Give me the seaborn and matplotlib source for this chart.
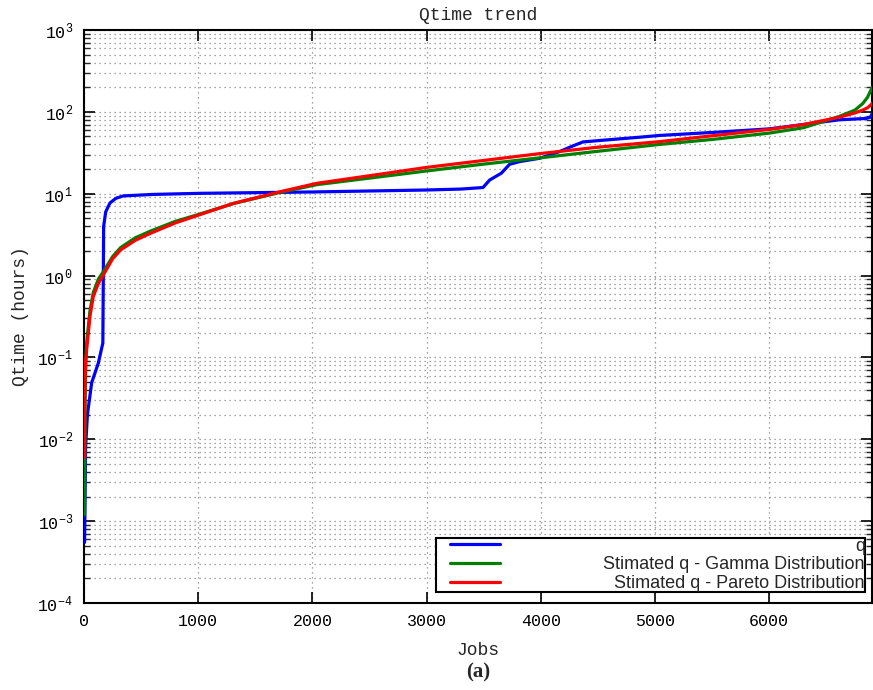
import numpy as np
import pandas as pd
import matplotlib
matplotlib.use("Agg")
import matplotlib.pyplot as plt
from matplotlib.ticker import LogLocator, NullFormatter, FixedLocator
import seaborn as sns

# Measured queue time per job (sorted), in hours
jobs_q = [5, 8, 14, 30, 67, 125, 165, 172, 190, 227, 280, 344, 600, 1000, 1500,
          2000, 2500, 3000, 3300, 3494, 3552, 3654, 3727, 3815, 3990, 4164, 4280,
          4369, 4500, 4864, 5040, 5500, 6000, 6118, 6614, 6848, 6885, 6903]
q = [5.5e-4, 1.2e-3, 8e-3, 0.02, 0.049, 0.085, 0.15, 4.0, 6.0, 7.7, 8.8, 9.4,
     9.8, 10.1, 10.3, 10.5, 10.8, 11.1, 11.4, 11.9, 14.7, 17.8, 22.9, 24.7, 27.1,
     32.7, 38.3, 42.9, 44.5, 49.0, 51.5, 56.0, 62.0, 65.0, 80.0, 83.0, 86.0, 96.0]

# Estimated queue time from the fitted distributions
jobs_fit = [5, 7, 10, 14, 23, 52, 81, 125, 175, 250, 321, 450, 583, 800, 1006,
            1312, 1721, 2039, 2500, 3004, 3500, 4000, 4500, 5040, 5500, 6000,
            6300, 6614, 6750, 6818, 6860, 6891, 6903]
q_gamma = [1.2e-3, 6e-3, 0.03, 0.07, 0.15, 0.37, 0.62, 0.9, 1.15, 1.7, 2.2, 2.9,
           3.5, 4.6, 5.6, 7.6, 10.4, 12.9, 15.5, 19.0, 23.0, 27.5, 33.0, 40.0,
           46.0, 55.0, 64.0, 88.0, 105.0, 126.0, 150.0, 185.0, 200.0]
q_pareto = [6e-3, 0.03, 0.06, 0.09, 0.124, 0.316, 0.555, 0.8, 1.05, 1.6, 2.06,
            2.7, 3.29, 4.4, 5.5, 7.65, 10.6, 13.4, 16.6, 21.0, 25.5, 31.0, 37.0,
            43.3, 51.0, 61.0, 70.0, 86.0, 97.0, 105.0, 112.0, 122.0, 128.0]

labels = ["q", "Stimated q - Gamma Distribution", "Stimated q - Pareto Distribution"]
colors = ["#0000ff", "#008000", "#ff0000"]
x_ticks = [0, 1000, 2000, 3000, 4000, 5000, 6000]
y_ticks = [1e-4, 1e-3, 1e-2, 1e-1, 1e0, 1e1, 1e2, 1e3]

sns.set_style("ticks")
plt.rcParams["font.family"] = ["Liberation Mono", "DejaVu Sans Mono"]
plt.rcParams["mathtext.default"] = "regular"

fig = plt.figure(figsize=(8.73, 6.90), dpi=100)
ax = fig.add_axes([84 / 873, 1 - 603 / 690, 788 / 873, 573 / 690])

series = [(jobs_q, q), (jobs_fit, q_gamma), (jobs_fit, q_pareto)]
handles = []
for (xs, ys), lab, col in zip(series, labels, colors):
    df = pd.DataFrame({"Jobs": xs, "Qtime": ys})
    sns.lineplot(data=df, x="Jobs", y="Qtime", ax=ax, color=col, lw=2.3,
                 label=lab, legend=False, estimator=None, sort=False, zorder=3)
    handles.append(ax.get_lines()[-1])

ax.set_yscale("log")
ax.set_ylim(1e-4, 1e3)
ax.set_xlim(0, 6900)
ax.xaxis.set_major_locator(FixedLocator(x_ticks))
ax.yaxis.set_major_locator(FixedLocator(y_ticks))
ax.yaxis.set_minor_locator(LogLocator(base=10, subs=np.arange(2, 10), numticks=20))
ax.yaxis.set_minor_formatter(NullFormatter())

ax.grid(True, which="major", axis="both", color="#888888", ls=(0, (1, 3)), lw=0.9)
ax.grid(True, which="minor", axis="y", color="#888888", ls=(0, (1, 3)), lw=0.9)

ax.tick_params(which="major", direction="in", length=8, width=1.2, top=True,
               right=True, labelsize=12, pad=8, colors="black")
ax.tick_params(which="minor", direction="in", length=4.5, width=1.0, top=False,
               right=True, left=True)
for s in ax.spines.values():
    s.set_linewidth(1.5)
    s.set_color("black")

ax.set_title("Qtime trend", fontsize=13, pad=7)
ax.set_xlabel("Jobs", fontsize=13, labelpad=9)
ax.set_ylabel("Qtime (hours)", fontsize=13, labelpad=6)

leg = ax.legend(handles, labels, loc="lower right", bbox_to_anchor=(0.991, 0.019),
                borderaxespad=0, fancybox=False, framealpha=1, edgecolor="black",
                prop={"family": "Liberation Sans", "size": 13}, handlelength=3.5,
                labelspacing=0.1, borderpad=0.0, handletextpad=0.6)
leg.get_frame().set_linewidth(1.5)

# inset the sample lines from the left edge of the frame
for line in leg.get_lines():
    xd = np.asarray(line.get_xdata(), dtype=float)
    line.set_xdata(np.linspace(xd[0] + 9.5, xd[-1], len(xd)))

# right-align the labels while keeping the handles in one column
fig.canvas.draw()
r = fig.canvas.get_renderer()
widths = [t.get_window_extent(r).width for t in leg.get_texts()]
maxw = max(widths)
extra = 93
rows = leg._legend_handle_box.get_children()[0].get_children()
for row, w in zip(rows, widths):
    row.sep += (maxw - w + extra) * 72 / fig.dpi

fig.text(478 / 873, 1 - 672 / 690, "(a)", ha="center", va="center",
         fontsize=15, fontweight="bold", family="Liberation Serif")

fig.savefig("out.png", dpi=100)
